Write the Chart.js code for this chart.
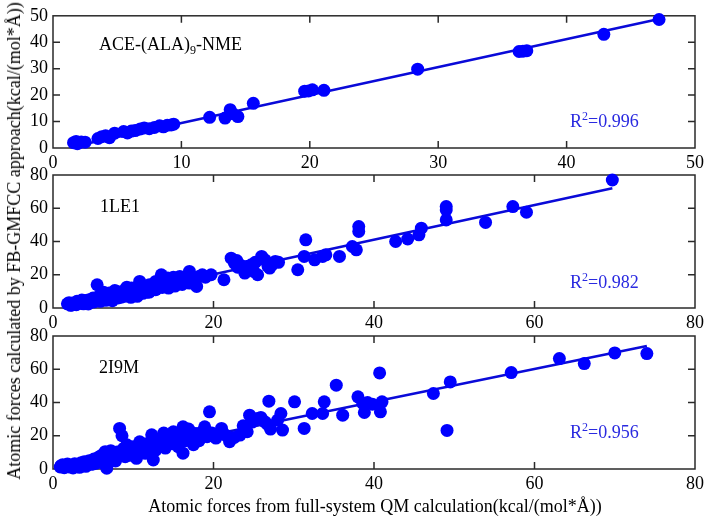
<!DOCTYPE html>
<html><head><meta charset="utf-8">
<script src="https://cdn.jsdelivr.net/npm/chart.js@4/dist/chart.umd.min.js"></script>
<style>
body{margin:0;background:#fff;width:708px;height:518px;overflow:hidden;position:relative;font-family:"Liberation Serif","Times New Roman",serif;}
canvas{position:absolute;left:0;top:0;}
.t{position:absolute;font-size:18px;line-height:18px;color:#000;white-space:nowrap;}
.r{color:#2a2ae0;}
sub{font-size:12px;vertical-align:-4px;line-height:0;}
sup{font-size:12px;vertical-align:7px;line-height:0;}
</style></head><body>
<canvas id="c1" width="708" height="518"></canvas>
<canvas id="c2" width="708" height="518"></canvas>
<canvas id="c3" width="708" height="518"></canvas>
<div class="t" style="left:99px;top:35px;">ACE-(ALA)<sub>9</sub>-NME</div>
<div class="t" style="left:100px;top:197px;">1LE1</div>
<div class="t" style="left:99px;top:358px;">2I9M</div>
<div class="t r" style="left:570px;top:112px;">R<sup>2</sup>=0.996</div>
<div class="t r" style="left:570px;top:273px;">R<sup>2</sup>=0.982</div>
<div class="t r" style="left:570px;top:423px;">R<sup>2</sup>=0.956</div>
<div class="t" style="left:375px;top:497px;transform:translateX(-50%);">Atomic forces from full-system QM calculation(kcal/(mol*Å))</div>
<div class="t" style="left:14px;top:241px;transform:translate(-50%,-50%) rotate(-90deg);">Atomic forces calculated by FB-GMFCC approach(kcal/(mol*Å))</div>
<script>
// ---------- data ----------
const panelNames = ["ACE-(ALA)9-NME", "1LE1", "2I9M"];
const r2Values = ["0.996", "0.982", "0.956"];

const xTicks1 = [0, 10, 20, 30, 40, 50];
const yTicks1 = [0, 10, 20, 30, 40, 50];
const xTicks23 = [0, 20, 40, 60, 80];
const yTicks23 = [0, 20, 40, 60, 80];

const ala_x = [1.6,1.9,2.2,2.5,1.8,3.5,3.8,4.1,4.4,4.8,5.5,5.8,6.1,6.4,6.8,7.1,7.5,7.9,8.3,8.6,8.9,9.2,9.4,12.2,13.4,13.8,14.0,14.4,15.6,19.6,19.9,20.2,21.1,28.4,36.3,36.6,36.9,42.9,47.2];
const ala_y = [2.0,1.6,2.3,2.2,2.5,3.6,4.3,4.6,3.9,5.6,6.2,5.7,6.4,6.6,7.2,7.6,7.3,7.8,8.4,8.0,8.6,8.7,9.0,11.6,11.3,14.5,13.0,11.9,16.9,21.5,21.6,22.0,21.8,29.8,36.5,36.6,36.8,43.0,48.6];
const ala_fit_x = [1.6, 47.2];
const ala_fit_y = [0.6, 48.8];

const le1_x = [1.8,2.0,2.3,2.5,2.8,3.0,3.2,3.5,3.8,4.0,4.2,4.5,4.8,5.0,5.3,5.5,5.7,6.0,6.2,6.5,6.8,7.0,7.3,7.5,7.8,8.0,8.3,8.5,8.8,9.0,9.3,9.5,9.8,10.0,10.3,10.5,10.8,11.0,11.3,11.5,11.8,12.0,12.3,12.5,12.8,13.0,13.3,13.5,13.8,14.0,14.3,14.5,14.8,15.0,15.3,15.5,15.8,16.0,16.3,16.5,16.8,17.0,17.3,17.6,17.9,18.2,18.6,19.0,19.7,21.3,22.2,23.3,23.9,24.7,25.5,26.0,26.9,27.0,27.7,30.5,31.3,31.5,32.6,33.6,34.0,35.7,37.3,37.8,38.1,38.1,42.7,44.2,45.6,45.9,49.0,49.0,49.0,53.9,57.3,59.0,69.7,
  2.2,2.9,3.6,4.4,5.1,5.9,6.6,7.4,8.1,8.9,9.7,10.4,11.2,12.0,12.8,13.6,14.4,15.2,16.1,17.0,22.6,23.0,24.1,25.0,25.2,26.4,27.3,28.1,24.4,22.9,26.8,6.3,7.7,9.2,10.9];
const le1_y = [2.5,3.2,1.8,3.0,2.2,4.0,2.8,3.5,2.5,4.5,3.8,5.0,4.2,6.0,5.2,14.0,7.0,5.8,8.0,6.5,7.5,9.0,6.0,8.5,7.2,10.0,8.8,6.5,9.5,11.0,8.0,10.5,12.0,9.0,11.5,7.0,16.0,10.5,13.0,12.0,9.5,14.0,11.0,13.5,16.0,12.5,14.5,20.0,17.0,15.0,18.0,13.5,16.5,18.5,15.0,17.5,19.0,16.0,17.5,15.5,19.0,22.0,18.0,16.5,13.0,19.0,20.0,18.5,20.0,17.0,30.0,26.0,21.0,26.0,20.0,31.0,27.0,24.0,28.0,23.0,31.0,41.0,29.0,31.0,32.0,31.0,37.0,35.0,49.0,46.0,40.0,41.5,44.0,48.0,61.0,59.0,53.0,51.5,61.0,57.6,77.0,
  1.6,2.0,4.8,2.4,3.6,4.0,4.6,4.4,6.0,7.0,6.4,8.6,8.8,9.6,11.0,12.4,12.0,13.2,14.2,15.0,27.0,24.5,25.0,22.0,27.5,29.0,26.0,27.5,23.5,28.5,25.0,9.5,10.5,12.5,13.5];
const le1_fit_x = [2.0, 69.7];
const le1_fit_y = [1.5, 72.0];

const i9m_x = [0.9,1.2,1.4,1.6,1.8,2.0,2.2,2.5,2.7,2.9,3.1,3.3,3.5,3.7,3.9,4.1,4.3,4.5,4.7,4.9,5.1,5.3,5.5,5.7,5.9,6.1,6.3,6.5,6.7,6.8,7.0,7.2,7.4,7.6,7.8,8.0,8.3,8.6,8.8,9.0,9.2,9.4,9.6,9.8,10.0,10.4,10.6,10.9,11.2,11.5,11.8,12.1,12.5,12.6,12.8,13.1,13.4,13.7,14.0,14.3,14.6,14.9,15.0,15.3,15.6,15.9,16.2,16.2,16.5,16.9,17.2,17.5,17.8,18.2,18.6,18.9,19.2,19.5,19.8,20.3,21.0,21.5,22.0,22.6,23.3,23.7,24.2,24.5,24.8,25.5,25.9,26.4,26.7,26.9,27.1,28.0,28.4,28.6,30.1,31.3,32.3,33.6,33.8,35.3,36.1,38.0,38.6,38.8,39.2,39.8,40.7,40.8,41.0,47.4,49.1,49.5,57.1,63.1,66.2,70.0,74.0,
  1.0,2.4,3.8,5.0,6.2,7.5,8.9,10.2,11.6,13.0,14.4,15.8,17.0,18.4,12.3,13.8,15.4,16.8,9.5,10.8];
const i9m_y = [1.2,2.5,0.8,1.8,3.0,1.2,2.2,0.6,3.2,1.8,2.6,1.0,3.8,2.4,4.4,1.6,3.2,5.0,2.8,4.2,6.0,3.4,5.2,7.2,4.4,8.4,6.2,10.4,0.5,5.4,8.0,11.0,6.8,9.2,4.8,10.2,24.4,20.0,12.4,7.4,14.6,9.6,11.6,8.2,13.4,6.4,10.8,14.0,12.0,9.4,15.4,13.2,5.4,18.4,11.4,16.4,14.2,19.4,12.6,17.6,20.4,15.2,22.4,18.2,13.4,21.0,25.4,9.5,17.0,24.0,19.4,14.6,21.4,17.0,22.4,25.4,19.4,34.4,21.6,18.6,24.4,20.4,16.4,19.0,20.4,26.0,22.4,32.4,28.2,30.4,31.0,28.4,27.0,40.8,24.0,29.4,33.4,23.4,40.4,24.4,33.4,33.4,40.4,50.4,32.4,43.4,39.4,34.0,40.0,39.0,57.8,34.4,40.4,45.4,23.2,52.4,58.0,66.4,63.4,69.8,69.4,
  2.0,1.4,2.0,3.0,3.6,5.4,9.0,9.8,10.6,12.8,16.0,18.0,17.6,20.6,20.6,21.6,15.8,22.2,11.8,16.4];
const i9m_fit_x = [1.0, 74.0];
const i9m_fit_y = [2.0, 74.0];

// ---------- drawing ----------
const BLUE = '#0000ff';
const LINE = '#0a0ad8';
const FONT = {family: '"Liberation Serif","Times New Roman",serif', size: 18};
const pts = (xs, ys) => xs.map((v, i) => ({x: v, y: ys[i]}));

const frame = {
  id: 'frame',
  beforeDatasetsDraw(chart) {
    const {ctx, chartArea: a, scales: {x, y}} = chart;
    ctx.save();
    ctx.strokeStyle = '#2a2a2a';
    ctx.lineWidth = 1.5;
    ctx.strokeRect(a.left, a.top, a.right - a.left, a.bottom - a.top);
    ctx.beginPath();
    x.ticks.forEach(t => {
      const p = x.getPixelForValue(t.value);
      if (p <= a.left + 1 || p >= a.right - 1) return;
      ctx.moveTo(p, a.bottom); ctx.lineTo(p, a.bottom - 7);
      ctx.moveTo(p, a.top); ctx.lineTo(p, a.top + 7);
    });
    y.ticks.forEach(t => {
      const p = y.getPixelForValue(t.value);
      if (p <= a.top + 1 || p >= a.bottom - 1) return;
      ctx.moveTo(a.left, p); ctx.lineTo(a.left + 7, p);
      ctx.moveTo(a.right, p); ctx.lineTo(a.right - 7, p);
    });
    ctx.stroke();
    ctx.restore();
  }
};

function makeChart(id, top, bottom, xs, ys, fx, fy, xTicks, yTicks) {
  const xmax = xTicks[xTicks.length - 1], ymax = yTicks[yTicks.length - 1];
  const xstep = xTicks[1] - xTicks[0], ystep = yTicks[1] - yTicks[0];
  new Chart(document.getElementById(id), {
    type: 'scatter',
    data: {
      datasets: [
        {data: pts(fx, fy), showLine: true, borderColor: LINE, borderWidth: 2.5, pointRadius: 0, clip: false, order: 2},
        {data: pts(xs, ys), backgroundColor: BLUE, borderWidth: 0, pointRadius: 6.5, clip: false, order: 1}
      ]
    },
    options: {
      responsive: false, animation: false, devicePixelRatio: 1,
      layout: {padding: {top: top, bottom: 518 - bottom - 20, left: 0, right: 12}},
      plugins: {legend: {display: false}, tooltip: {enabled: false}},
      scales: {
        x: {
          type: 'linear', min: 0, max: xmax,
          afterFit: s => { s.height = 20; },
          grid: {display: false, drawTicks: false},
          border: {display: false},
          ticks: {stepSize: xstep, padding: 4, color: '#000', font: FONT, maxRotation: 0}
        },
        y: {
          type: 'linear', min: 0, max: ymax,
          afterFit: s => { s.width = 53; },
          grid: {display: false, drawTicks: false},
          border: {display: false},
          ticks: {stepSize: ystep, padding: 5, color: '#000', font: FONT}
        }
      }
    },
    plugins: [frame]
  });
}

makeChart('c1', 15, 148, ala_x, ala_y, ala_fit_x, ala_fit_y, xTicks1, yTicks1);
makeChart('c2', 175, 308, le1_x, le1_y, le1_fit_x, le1_fit_y, xTicks23, yTicks23);
makeChart('c3', 336, 469, i9m_x, i9m_y, i9m_fit_x, i9m_fit_y, xTicks23, yTicks23);
</script>
</body></html>
